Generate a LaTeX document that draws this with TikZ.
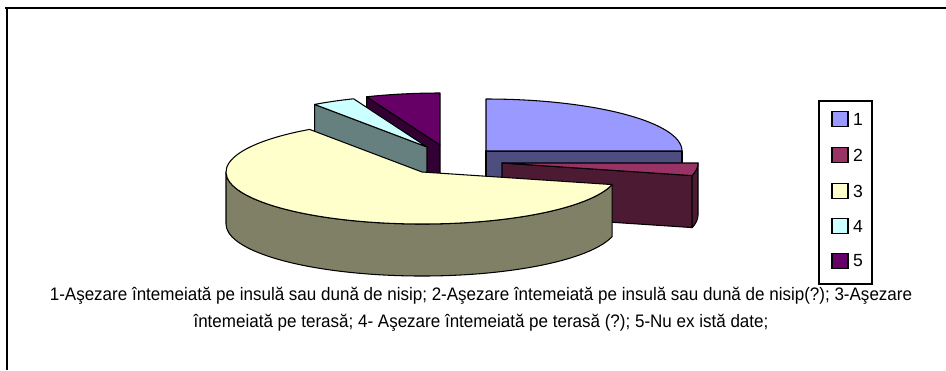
\documentclass[tikz,border=0pt]{standalone}
\usepackage{fontspec}
\usepackage{xcolor}
\usepackage{tikz}
\usetikzlibrary{positioning}
\setmainfont{Liberation Sans}
\newfontfamily\capfont[FakeStretch=0.94]{Liberation Sans}

\definecolor{topa}{HTML}{9999FF}
\definecolor{sidea}{HTML}{4D4D80}
\definecolor{topb}{HTML}{993366}
\definecolor{sideb}{HTML}{4D1A33}
\definecolor{topc}{HTML}{FFFFCC}
\definecolor{sidec}{HTML}{808066}
\definecolor{topd}{HTML}{CCFFFF}
\definecolor{sided}{HTML}{668080}
\definecolor{tope}{HTML}{660066}
\definecolor{sidee}{HTML}{330033}

\tikzstyle{rim} = [x radius=196, y radius=52]
\tikzstyle{slice} = [draw=black, line width=0.6pt, line join=round]
\tikzstyle{legsq} = [rectangle, draw, line width=0.8pt,
    minimum width=16*0.02cm, minimum height=15*0.02cm, inner sep=0pt]
\tikzstyle{legnum} = [inner sep=0pt, anchor=west, font=\fontsize{10}{12}\selectfont]
\tikzstyle{frame} = [draw, line width=1pt]

\begin{document}
\begin{tikzpicture}[x=0.02cm, y=0.02cm]
    \useasboundingbox (0,0) rectangle (946,370);
    % outer frame
    \path [frame] (5,362) -- (946,362);
    \path [frame] (7,362) -- (7,0);

    % slice tips
    \coordinate (v1) at (486,219);
    \coordinate (v2) at (502,207);
    \coordinate (v3) at (422,198);
    \coordinate (v4) at (427,223);
    \coordinate (v5) at (440,225);

    % 5
    \path [slice, fill=sidee] (v5) -- ++(112:196 and 52) -- ++(0,-52) -- ++(292:196 and 52) -- cycle;
    \path [slice, fill=tope] (v5) -- ++(90:196 and 52) arc[rim, start angle=90, end angle=112] -- cycle;
    % 4
    \path [slice, fill=sided] (v4) -- ++(125:196 and 52) -- ++(0,-52) -- ++(305:196 and 52) -- cycle;
    \path [slice, fill=topd] (v4) -- ++(112:196 and 52) arc[rim, start angle=112, end angle=125] -- cycle;
    % 1
    \path [slice, fill=sidea] (v1) -- ++(196,0) -- ++(0,-52) -- ++(-196,0) -- cycle;
    \path [slice, fill=topa] (v1) -- ++(0:196 and 52) arc[rim, start angle=0, end angle=90] -- cycle;
    % 2
    \path [slice, fill=sideb] (v2) -- ++(346:196 and 52) -- ++(0,-52) -- ++(166:196 and 52) -- cycle;
    \path [slice, fill=sideb] (v2) ++(346:196 and 52) arc[rim, start angle=346, end angle=360]
        -- ++(0,-52) arc[rim, start angle=360, end angle=346] -- cycle;
    \path [slice, fill=topb] (v2) -- ++(346:196 and 52) arc[rim, start angle=346, end angle=360] -- cycle;
    % 3
    \path [slice, fill=sidec] (v3) ++(180:196 and 52) arc[rim, start angle=180, end angle=346]
        -- ++(0,-52) arc[rim, start angle=346, end angle=180] -- cycle;
    \path [slice, fill=topc] (v3) -- ++(125:196 and 52) arc[rim, start angle=125, end angle=346] -- cycle;

    % legend
    \draw [line width=0.6pt] (819,86) rectangle (872,269);
    \node [legsq, fill=topa] (sq1) at (840,251) {};
    \node [legsq, fill=topb] (sq2) at (840,215) {};
    \node [legsq, fill=topc] (sq3) at (840,179) {};
    \node [legsq, fill=topd] (sq4) at (840,144) {};
    \node [legsq, fill=tope] (sq5) at (840,109) {};
    \node [legnum, right=0.08cm of sq1] {1};
    \node [legnum, right=0.08cm of sq2] {2};
    \node [legnum, right=0.08cm of sq3] {3};
    \node [legnum, right=0.08cm of sq4] {4};
    \node [legnum, right=0.08cm of sq5] {5};

    % caption
    \node [anchor=north, align=center, inner sep=0pt,
        font=\capfont\fontsize{10.3}{15}\selectfont] (caption) at (481,83)
        {1-Aşezare întemeiată pe insulă sau dună de nisip; 2-Aşezare întemeiată pe insulă sau dună de nisip(?); 3-Aşezare\\
         întemeiată pe terasă; 4- Aşezare întemeiată pe terasă (?); 5-Nu ex istă date;};
\end{tikzpicture}
\end{document}
